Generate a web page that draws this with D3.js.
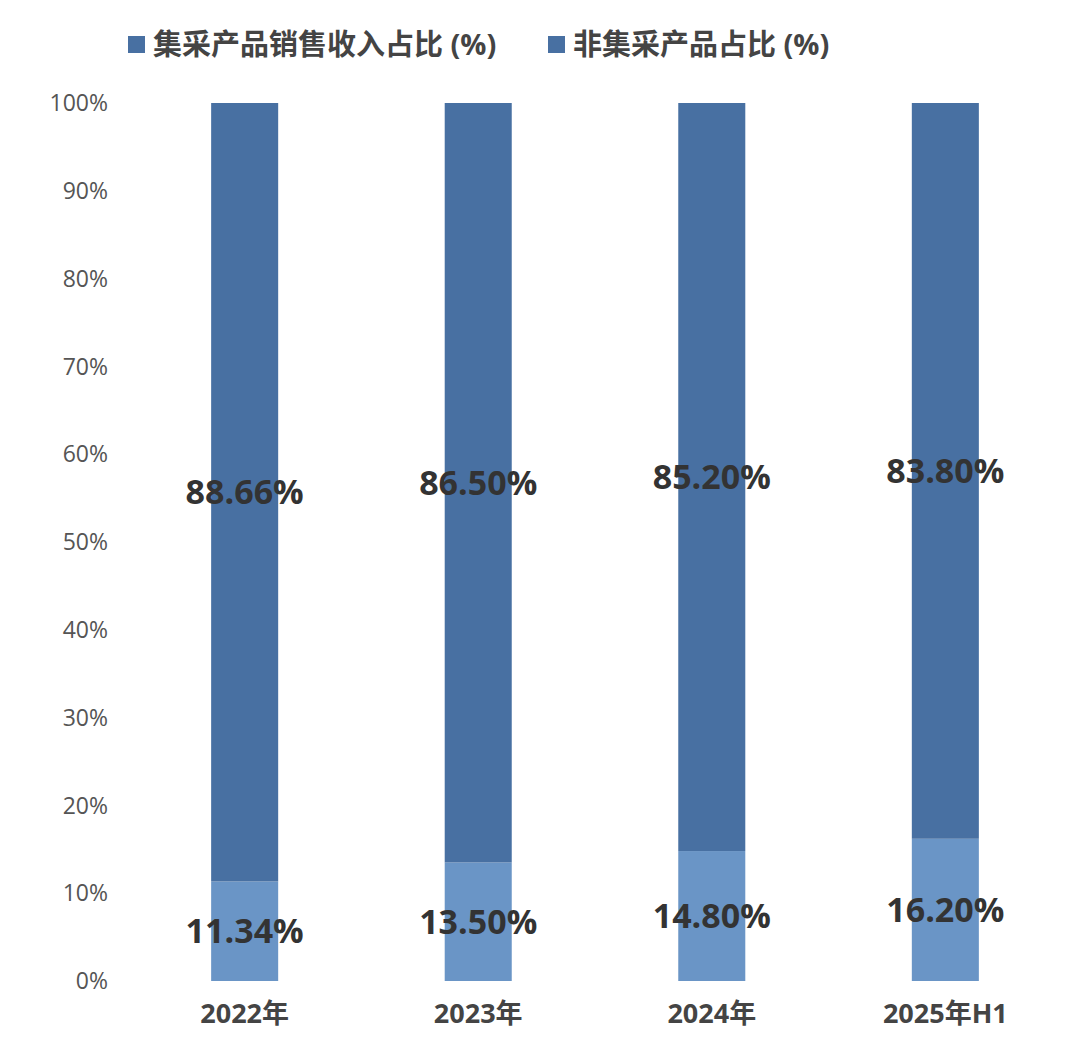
<!DOCTYPE html>
<html>
<head>
<meta charset="utf-8">
<script src="https://cdn.jsdelivr.net/npm/d3@7"></script>
<style>
  body { margin: 0; background: #fff; }
  text { font-family: "Open Sans", "Noto Sans CJK SC", sans-serif; }
</style>
</head>
<body>
<div id="chart"></div>
<script>
// Data
var categories = ["2022年", "2023年", "2024年", "2025年H1"];
var collectiveShare = [88.66, 86.50, 85.20, 83.80];
var nonCollectiveShare = [11.34, 13.50, 14.80, 16.20];
var yTicks = [0, 10, 20, 30, 40, 50, 60, 70, 80, 90, 100];
var seriesNames = ["集采产品销售收入占比 (%)", "非集采产品占比 (%)"];
var colors = ["#4870a2", "#6a95c6"];

var svgWidth = 1080, svgHeight = 1055;
var margin = { top: 103, right: 100, bottom: 74, left: 128 };
var height = svgHeight - margin.top - margin.bottom;

var svg = d3.select("#chart").append("svg")
  .attr("width", svgWidth).attr("height", svgHeight);

var chartGroup = svg.append("g")
  .attr("transform", `translate(0, ${margin.top})`);

var x = d3.scaleBand().domain(categories).range([128, 1062]).paddingInner(0.713).paddingOuter(0.356);
var y = d3.scaleLinear().domain([0, 100]).range([height, 0]);

// Y axis labels
chartGroup.selectAll(".ytick").data(yTicks).enter().append("text")
  .attr("x", 108).attr("y", d => y(d)).attr("dy", "0.36em")
  .attr("text-anchor", "end").attr("fill", "#555").attr("font-size", 23)
  .text(d => d + "%");

var rows = categories.map((c, i) => ({ cat: c, a: collectiveShare[i], b: nonCollectiveShare[i] }));

// Bottom (non-collective) segments
chartGroup.selectAll(".lower").data(rows).enter().append("rect")
  .attr("x", d => x(d.cat)).attr("width", x.bandwidth())
  .attr("y", d => y(d.b)).attr("height", d => y(0) - y(d.b))
  .attr("fill", colors[1]);

// Top (collective) segments
chartGroup.selectAll(".upper").data(rows).enter().append("rect")
  .attr("x", d => x(d.cat)).attr("width", x.bandwidth())
  .attr("y", d => y(d.b + d.a)).attr("height", d => y(d.b) - y(d.b + d.a))
  .attr("fill", colors[0]);

// Value labels
chartGroup.selectAll(".labA").data(rows).enter().append("text")
  .attr("x", d => x(d.cat) + x.bandwidth() / 2)
  .attr("y", d => y(d.b + d.a / 2)).attr("dy", "0.36em")
  .attr("text-anchor", "middle").attr("font-size", 34).attr("font-weight", "bold")
  .attr("fill", "#333").text(d => d.a.toFixed(2) + "%");

chartGroup.selectAll(".labB").data(rows).enter().append("text")
  .attr("x", d => x(d.cat) + x.bandwidth() / 2)
  .attr("y", d => y(d.b / 2)).attr("dy", "0.36em")
  .attr("text-anchor", "middle").attr("font-size", 34).attr("font-weight", "bold")
  .attr("fill", "#333").text(d => d.b.toFixed(2) + "%");

// X labels
chartGroup.selectAll(".xlab").data(categories).enter().append("text")
  .attr("x", d => x(d) + x.bandwidth() / 2).attr("y", height + 42)
  .attr("text-anchor", "middle").attr("font-size", 27).attr("font-weight", "bold")
  .attr("fill", "#444").text(d => d);

// Legend
var legendX = [128, 548];
seriesNames.forEach(function(name, i) {
  var g = svg.append("g").attr("transform", `translate(${legendX[i]}, 45)`);
  g.append("rect").attr("x", 0).attr("y", -9).attr("width", 17).attr("height", 17).attr("fill", colors[0]);
  g.append("text").attr("x", 25).attr("y", 0).attr("dy", "0.36em")
    .attr("font-size", 29).attr("font-weight", "bold").attr("fill", "#444").text(name);
});
</script>
</body>
</html>
